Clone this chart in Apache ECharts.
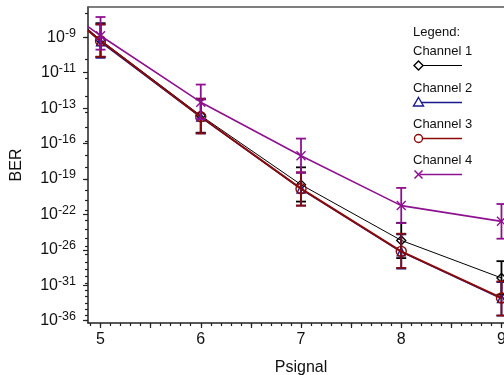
<!DOCTYPE html>
<html>
<head>
<meta charset="utf-8">
<script src="https://cdn.jsdelivr.net/npm/echarts@6/dist/echarts.min.js"></script>
<style>
  html, body { margin: 0; padding: 0; background: #fff; }
  #chart { width: 504px; height: 375px; }
</style>
</head>
<body>
<div id="chart"></div>
<script>
// Psignal values
const psignal = [5, 6, 7, 8, 9];

// BER is plotted as 10^-q; the arrays hold q
const ch1 = [9.12, 13.2, 18.5, 24.3, 29.2];
const ch1Top = [8.4, 12.15, 17.0, 22.3, 26.9];
const ch1Bot = [9.9, 14.35, 20.1, 26.5, 31.7];

const ch2 = [9.2, 13.3, 18.9, 25.7, 32.3];
const ch2Top = [8.45, 12.2, 17.45, 23.6, 29.8];
const ch2Bot = [9.95, 14.4, 20.5, 27.9, 35.1];

const ch3 = [9.15, 13.27, 18.87, 25.64, 32.2];
const ch3Top = [8.45, 12.17, 17.42, 23.52, 29.7];
const ch3Bot = [9.9, 14.4, 20.5, 27.8, 35.1];

const ch4 = [8.93, 12.36, 16.06, 20.5, 22.14];
const ch4Top = [8.15, 11.34, 14.77, 18.8, 20.34];
const ch4Bot = [9.56, 13.43, 17.45, 22.32, 24.1];

// where each line leaves the plot on the left (x = 4.875)
const edgeX = 4.875;
const edgeQ = [8.65, 8.7, 8.7, 8.54];

const channelNames = ["Channel 1", "Channel 2", "Channel 3", "Channel 4"];

// y tick labels (q where they sit, and the exponent text)
const yLabelQ = [9, 10.7, 12.73, 15.14, 18, 21.41, 25.46, 30.27, 36];
const yLabelText = ["-9", "-11", "-13", "-16", "-19", "-22", "-26", "-31", "-36"];

// x tick labels
const xLabels = [5, 6, 7, 8, 9];

const lg = Math.log10;
const yMin = lg(7.76), yMax = lg(36.4);
const xMin = 4.875, xMax = 9.125;

const yMinorTicks = [];
for (let q = 8; q <= 36; q++) yMinorTicks.push(lg(q));
const yLabelPos = yLabelQ.map(lg);
const xMinorTicks = [];
for (let i = 49; i <= 91; i++) xMinorTicks.push(i / 10);
const xLongTicks = [];
for (let i = 10; i <= 18; i++) xLongTicks.push(i / 2);

const FONT = '"Liberation Sans", Arial, sans-serif';
const AX = "#222";

const styles = [
  { color: "#000000", symbol: "diamond", size: 9, width: 1, q: ch1, top: ch1Top, bot: ch1Bot },
  { color: "#1a1a8c", symbol: "triangle", size: 8, width: 1.5, q: ch2, top: ch2Top, bot: ch2Bot },
  { color: "#8b0a0a", symbol: "circle", size: 10, width: 2, q: ch3, top: ch3Top, bot: ch3Bot },
  { color: "#8e1190", symbol: "path://M0,0L10,10M10,0L0,10", size: 9, width: 1.6, q: ch4, top: ch4Top, bot: ch4Bot },
];

function errorBars(s, z) {
  return {
    type: "custom",
    silent: true,
    z: z,
    data: psignal.map((x, i) => [x, lg(s.top[i]), lg(s.bot[i])]),
    encode: { x: 0, y: [1, 2] },
    renderItem: (params, api) => {
      const x = api.value(0);
      const a = api.coord([x, api.value(1)]);
      const b = api.coord([x, api.value(2)]);
      const w = 5;
      const st = { stroke: s.color, lineWidth: 1.8 };
      return {
        type: "group",
        children: [
          { type: "line", shape: { x1: a[0], y1: a[1], x2: b[0], y2: b[1] }, style: st },
          { type: "line", shape: { x1: a[0] - w, y1: a[1], x2: a[0] + w, y2: a[1] }, style: st },
          { type: "line", shape: { x1: b[0] - w, y1: b[1], x2: b[0] + w, y2: b[1] }, style: st },
        ],
      };
    },
  };
}

function lineSeries(s, idx, z) {
  const data = [[edgeX, lg(edgeQ[idx])]].concat(psignal.map((x, i) => [x, lg(s.q[i])]));
  return {
    name: channelNames[idx],
    type: "line",
    z: z,
    data: data,
    symbol: (v, p) => (p.dataIndex === 0 ? "none" : s.symbol),
    symbolSize: s.size,
    showSymbol: true,
    lineStyle: { color: s.color, width: s.width },
    itemStyle: { color: "rgba(255,255,255,0)", borderColor: s.color, borderWidth: 1.4 },
    emphasis: { disabled: true },
  };
}

const series = [];
styles.forEach((s, i) => {
  series.push(errorBars(s, 2 + i * 2));
  series.push(lineSeries(s, i, 3 + i * 2));
});

// legend drawn by hand: text above, marker + line below
const legendGraphics = [
  { type: "text", x: 413, y: 32, style: { text: "Legend:", fill: "#111", font: "13px " + FONT, verticalAlign: "middle" } },
];
function marker(kind, cx, cy, color) {
  const st = { stroke: color, fill: "#fff", lineWidth: 1.4 };
  if (kind === "diamond")
    return { type: "polygon", shape: { points: [[cx, cy - 4.5], [cx + 4.5, cy], [cx, cy + 4.5], [cx - 4.5, cy]] }, style: st };
  if (kind === "triangle")
    return { type: "polygon", shape: { points: [[cx, cy - 5], [cx + 5, cy + 3.5], [cx - 5, cy + 3.5]] }, style: st };
  if (kind === "circle")
    return { type: "circle", shape: { cx: cx, cy: cy, r: 4 }, style: st };
  return {
    type: "group",
    children: [
      { type: "line", shape: { x1: cx - 4, y1: cy - 4, x2: cx + 4, y2: cy + 4 }, style: { stroke: color, lineWidth: 1.6 } },
      { type: "line", shape: { x1: cx - 4, y1: cy + 4, x2: cx + 4, y2: cy - 4 }, style: { stroke: color, lineWidth: 1.6 } },
    ],
  };
}
const legendRows = [51, 88, 124, 160];
const legendKinds = ["diamond", "triangle", "circle", "cross"];
styles.forEach((s, i) => {
  const ty = legendRows[i];
  const ly = ty + 14.5;
  legendGraphics.push({ type: "text", x: 413, y: ty, style: { text: channelNames[i], fill: "#111", font: "13px " + FONT, verticalAlign: "middle" } });
  legendGraphics.push({ type: "line", shape: { x1: 420, y1: ly, x2: 462, y2: ly }, style: { stroke: s.color, lineWidth: i === 0 ? 1 : 1.5 } });
  legendGraphics.push(marker(legendKinds[i], 418.5, ly, s.color));
});

const option = {
  animation: false,
  backgroundColor: "#fff",
  grid: { left: 88, top: 7, right: -10, bottom: 52, outerBoundsMode: "none", containLabel: false },
  xAxis: [
    {
      type: "value", min: xMin, max: xMax, position: "bottom",
      splitLine: { show: false },
      axisLine: { onZero: false, lineStyle: { color: AX, width: 1.5 } },
      axisTick: { customValues: xMinorTicks, length: 3, lineStyle: { color: AX, width: 1.2 } },
      axisLabel: { customValues: xLabels, margin: 9, color: "#111", fontSize: 16, fontFamily: FONT },
      name: "Psignal", nameLocation: "middle", nameGap: 37,
      nameTextStyle: { color: "#111", fontSize: 16, fontFamily: FONT },
    },
    {
      type: "value", min: xMin, max: xMax, position: "bottom", offset: 0,
      splitLine: { show: false },
      axisLine: { show: false, onZero: false },
      axisTick: { customValues: xLongTicks, length: 5, lineStyle: { color: AX, width: 1.2 } },
      axisLabel: { show: false },
    },
    {
      // top frame line
      type: "value", min: xMin, max: xMax, position: "top", offset: 0,
      splitLine: { show: false },
      axisLine: { onZero: false, lineStyle: { color: "#555", width: 1.5 } },
      axisTick: { show: false },
      axisLabel: { show: false },
    },
  ],
  yAxis: [
    {
      type: "value", min: yMin, max: yMax, inverse: true, position: "left",
      splitLine: { show: false },
      axisLine: { onZero: false, lineStyle: { color: AX, width: 1.5 } },
      axisTick: { customValues: yLabelPos, length: 5, lineStyle: { color: AX, width: 1.2 } },
      axisLabel: {
        customValues: yLabelPos, margin: 12, color: "#111",
        formatter: (v) => {
          let k = 0;
          yLabelPos.forEach((p, i) => { if (Math.abs(p - v) < Math.abs(yLabelPos[k] - v)) k = i; });
          return "{b|10}{s|" + yLabelText[k] + "}";
        },
        rich: {
          b: { fontSize: 16, fontFamily: FONT, color: "#111", lineHeight: 21 },
          s: { fontSize: 12.5, fontFamily: FONT, color: "#111", lineHeight: 11, verticalAlign: "top" },
        },
      },
      name: "BER", nameLocation: "middle", nameGap: 63, nameRotate: 90,
      nameTextStyle: { color: "#111", fontSize: 16, fontFamily: FONT },
    },
    {
      type: "value", min: yMin, max: yMax, inverse: true, position: "left", offset: 0,
      splitLine: { show: false },
      axisLine: { show: false, onZero: false },
      axisTick: { customValues: yMinorTicks, length: 3, lineStyle: { color: AX, width: 1.2 } },
      axisLabel: { show: false },
    },
  ],
  graphic: legendGraphics,
  series: series,
};

const chart = echarts.init(document.getElementById("chart"), null, { renderer: "canvas" });
chart.setOption(option);
window.addEventListener("resize", () => chart.resize());
</script>
</body>
</html>
